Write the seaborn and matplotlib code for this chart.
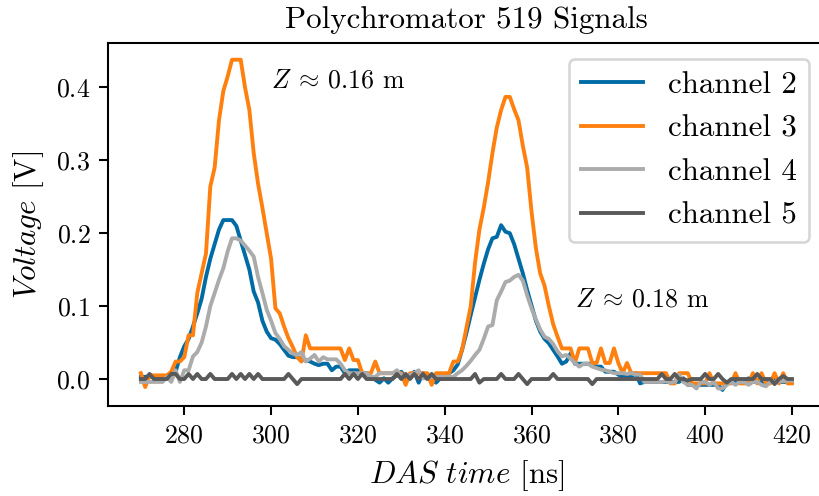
import numpy as np
import pandas as pd
import matplotlib
matplotlib.use("Agg")
import matplotlib.pyplot as plt
import seaborn as sns

# ---- data (DAS time in ns, voltages in V) ----
t_start, t_stop = 270, 420
time_ns = list(range(t_start, t_stop + 1))

channel_names = ["channel 2", "channel 3", "channel 4", "channel 5"]
channel_colors = ["#006BA4", "#FF800E", "#ABABAB", "#595959"]

ch2 = [
    0.003, 0.003, 0.003, 0.003, 0.003, 0.003, 0.003, 0.008, 0.010, 0.030,
    0.045, 0.055, 0.072, 0.090, 0.110, 0.140, 0.165, 0.185, 0.205, 0.218,
    0.218, 0.218, 0.210, 0.190, 0.170, 0.150, 0.120, 0.105, 0.080, 0.065,
    0.056, 0.054, 0.048, 0.040, 0.032, 0.030, 0.030, 0.027, 0.026, 0.024,
    0.021, 0.019, 0.021, 0.021, 0.012, 0.017, 0.017, 0.008, 0.012, 0.012,
    0.012, 0.008, 0.008, 0.003, -0.001, -0.005, 0.001, -0.005, 0.001, 0.005,
    0.010, 0.001, 0.001, 0.010, -0.005, 0.008, 0.001, 0.001, -0.005, 0.001,
    0.001, 0.008, 0.012, 0.020, 0.040, 0.063, 0.088, 0.112, 0.136, 0.158,
    0.178, 0.193, 0.195, 0.211, 0.202, 0.200, 0.185, 0.165, 0.145, 0.122,
    0.101, 0.080, 0.065, 0.055, 0.049, 0.040, 0.031, 0.021, 0.024, 0.035,
    0.021, 0.021, 0.021, 0.021, 0.021, 0.017, 0.017, 0.010, 0.010, 0.010,
    0.006, 0.003, 0.003, 0.003, 0.008, -0.006, -0.004, -0.004, -0.004, -0.004,
    -0.004, -0.004, -0.004, -0.004, -0.004, 0.001, -0.008, -0.008, -0.008, -0.008,
    -0.008, -0.008, -0.008, -0.008, -0.015, -0.004, -0.004, -0.004, -0.004, -0.004,
    0.001, -0.004, -0.004, -0.004, -0.004, -0.004, 0.001, -0.004, -0.004, -0.004, -0.004,
]

ch3 = [
    0.008, -0.011, 0.005, 0.005, 0.005, 0.005, 0.005, 0.010, 0.024, 0.024,
    0.030, 0.060, 0.060, 0.118, 0.145, 0.172, 0.264, 0.290, 0.355, 0.395,
    0.415, 0.438, 0.438, 0.438, 0.400, 0.369, 0.310, 0.268, 0.235, 0.200,
    0.165, 0.097, 0.090, 0.072, 0.056, 0.044, 0.030, 0.024, 0.060, 0.042,
    0.042, 0.042, 0.042, 0.042, 0.042, 0.042, 0.042, 0.026, 0.042, 0.026,
    0.026, 0.008, 0.008, 0.008, 0.024, 0.008, 0.008, 0.008, 0.008, 0.008,
    0.008, -0.008, 0.008, 0.008, 0.008, 0.008, 0.008, -0.008, 0.008, 0.008,
    0.008, 0.008, 0.024, 0.024, 0.040, 0.070, 0.100, 0.160, 0.205, 0.235,
    0.270, 0.310, 0.345, 0.369, 0.387, 0.387, 0.370, 0.355, 0.320, 0.290,
    0.230, 0.180, 0.145, 0.128, 0.100, 0.075, 0.058, 0.042, 0.042, 0.042,
    0.022, 0.042, 0.042, 0.042, 0.022, 0.022, 0.042, 0.022, 0.022, 0.042,
    0.022, 0.008, 0.022, 0.008, 0.008, 0.008, 0.008, 0.008, 0.008, 0.008,
    0.008, 0.008, -0.006, -0.006, 0.008, 0.008, 0.008, -0.006, -0.006, -0.006,
    -0.006, 0.008, -0.006, -0.006, -0.006, -0.006, -0.006, 0.008, -0.006, -0.006,
    -0.006, 0.008, -0.006, 0.008, -0.006, -0.006, 0.008, -0.006, 0.008, -0.006, -0.006,
]

ch4 = [
    -0.004, -0.004, -0.004, -0.004, -0.004, -0.004, 0.003, -0.004, 0.012, -0.004,
    0.012, 0.012, 0.031, 0.037, 0.050, 0.072, 0.100, 0.118, 0.136, 0.152,
    0.175, 0.193, 0.193, 0.190, 0.183, 0.176, 0.168, 0.140, 0.118, 0.095,
    0.080, 0.063, 0.055, 0.045, 0.040, 0.035, 0.033, 0.037, 0.024, 0.028,
    0.033, 0.024, 0.030, 0.027, 0.027, 0.027, 0.021, 0.012, 0.008, 0.008,
    0.008, 0.008, 0.008, 0.003, 0.003, 0.008, 0.008, 0.008, 0.008, 0.012,
    0.005, 0.005, 0.005, 0.008, 0.012, 0.001, 0.001, 0.003, 0.003, 0.003,
    0.003, 0.003, 0.003, 0.008, 0.012, 0.018, 0.025, 0.033, 0.040, 0.055,
    0.072, 0.074, 0.108, 0.120, 0.133, 0.135, 0.140, 0.143, 0.135, 0.115,
    0.097, 0.082, 0.068, 0.058, 0.055, 0.048, 0.038, 0.031, 0.033, 0.028,
    0.022, 0.017, 0.021, 0.021, 0.017, 0.015, 0.013, 0.012, 0.010, 0.008,
    0.008, 0.008, 0.007, 0.008, 0.006, 0.006, -0.004, -0.004, -0.004, -0.004,
    -0.004, -0.003, -0.005, -0.004, 0.006, -0.004, -0.008, -0.008, -0.013, -0.004,
    -0.004, -0.008, -0.004, -0.013, -0.013, -0.008, -0.004, -0.008, -0.004, -0.004,
    -0.008, -0.004, -0.004, -0.008, -0.010, -0.004, -0.004, -0.003, -0.003, -0.002, -0.002,
]

ch5 = [
    0.0, 0.0, 0.007, 0.0, 0.0, 0.0, 0.0, 0.007, 0.007, 0.0,
    0.0, 0.007, 0.0, 0.007, 0.0, 0.0, 0.007, 0.0, 0.0, 0.0,
    0.0, 0.007, 0.0, 0.007, 0.0, 0.007, 0.0, 0.007, 0.0, 0.0,
    0.0, 0.0, 0.0, 0.0, 0.007, 0.0, -0.007, 0.0, 0.0, 0.0,
    0.0, 0.0, 0.0, 0.0, 0.0, 0.0, 0.0, 0.007, 0.0, 0.007,
    0.0, 0.007, 0.0, 0.0, 0.0, 0.0, 0.0, 0.0, 0.0, 0.007,
    0.0, 0.007, 0.0, 0.007, 0.0, 0.007, 0.0, 0.007, 0.0, 0.0,
    0.0, 0.0, 0.0, 0.0, 0.0, 0.0, 0.0, 0.007, -0.005, 0.0,
    0.0, 0.0, 0.0, 0.007, 0.0, 0.0, 0.0, 0.007, 0.0, -0.007,
    0.0, 0.0, 0.0, 0.0, 0.0, 0.007, 0.0, 0.0, 0.0, 0.0,
    0.0, 0.0, 0.0, 0.0, -0.007, 0.0, 0.0, 0.0, 0.0, 0.0,
    0.0, 0.0, 0.0, 0.0, 0.0, 0.0, 0.0, 0.0, 0.0, 0.0,
    0.007, 0.0, 0.0, 0.007, 0.0, 0.0, -0.002, 0.0, 0.0, 0.0,
    0.007, 0.0, 0.0, 0.007, 0.0, -0.005, 0.0, 0.0, 0.0, 0.0,
    0.0, 0.0, 0.007, 0.0, 0.0, 0.0, -0.007, 0.0, 0.004, 0.0, 0.0,
]

annotations = [(300, 0.40, r"$Z\:\approx\:0.16$ m"), (370, 0.10, r"$Z\:\approx\:0.18$ m")]

# ---- style ----
plt.rcParams.update({
    "font.family": "serif",
    "font.serif": ["cmr10"],
    "mathtext.fontset": "cm",
    "axes.formatter.use_mathtext": True,
    "axes.unicode_minus": False,
    "font.size": 12,
    "xtick.labelsize": 10,
    "ytick.labelsize": 10,
    "axes.labelsize": 12,
    "axes.titlesize": 12,
    "legend.fontsize": 12,
})

frames = []
for name, vals in zip(channel_names, [ch2, ch3, ch4, ch5]):
    frames.append(pd.DataFrame({"time": time_ns, "voltage": vals, "channel": name}))
df = pd.concat(frames, ignore_index=True)

dpi = 186
fig = plt.figure(figsize=(820 / dpi, 496 / dpi), dpi=dpi)
ax = fig.add_axes([108.3 / 820, 1 - 406 / 496, (824.5 - 108.3) / 820, (406 - 43.3) / 496])

sns.lineplot(data=df, x="time", y="voltage", hue="channel",
             palette=dict(zip(channel_names, channel_colors)),
             hue_order=channel_names, estimator=None, errorbar=None,
             linewidth=1.5, legend=False, ax=ax)

ax.set_xlim(262.5, 427.5)
ax.set_ylim(-0.037, 0.4605)
ax.set_xticks(range(280, 421, 20))
ax.set_yticks([0.0, 0.1, 0.2, 0.3, 0.4])
ax.set_xlabel(r"$DAS\ time$ [ns]")
ax.set_ylabel(r"$Voltage$ [V]")
ax.set_title("Polychromator 519 Signals")

for x, y, s in annotations:
    ax.text(x, y, s, fontsize=10)

lines = ax.get_lines()[:len(channel_names)]
ax.legend(lines, channel_names, loc="upper right")

fig.savefig("out.png", dpi=dpi)
